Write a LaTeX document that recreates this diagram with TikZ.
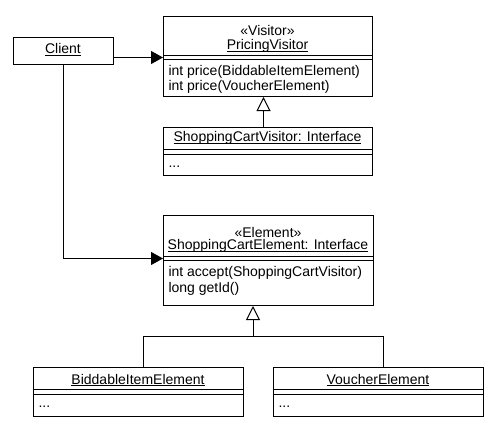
\documentclass[tikz,border=0pt]{standalone}
\usepackage{fontspec}
\setmainfont{Liberation Sans}
\usetikzlibrary{arrows.meta,calc}
\newcommand\ulx[1]{\setbox0\hbox{#1}\rlap{\rule[-1.9pt]{\wd0}{0.8pt}}\box0}
\begin{document}
\begin{tikzpicture}[x=1pt,y=-1pt,line width=1pt,
  cls/.style={draw,rectangle,anchor=north west,inner sep=0pt},
  txt/.style={inner sep=0pt,font=\fontsize{14}{16}\selectfont},
  ltxt/.style={txt,anchor=west},
  sep/.style={line width=1pt},
  assoc/.style={-{Triangle[length=12pt,width=13pt]}},
  inh/.style={-{Triangle[open,length=14pt,width=14pt,fill=white]}}]
\useasboundingbox (0,0) rectangle (497,433);
% boxes
\node[cls,minimum width=100pt,minimum height=27pt] (client) at (13,37) {};
\node[cls,minimum width=209pt,minimum height=80pt] (pv) at (163,16) {};
\node[cls,minimum width=209pt,minimum height=48pt] (scv) at (163,127) {};
\node[cls,minimum width=210pt,minimum height=90pt] (sce) at (163,215) {};
\node[cls,minimum width=210pt,minimum height=49pt] (bie) at (33,367) {};
\node[cls,minimum width=210pt,minimum height=49pt] (ve) at (273,367) {};
% separators
\draw[sep] (163,56) -- (372,56) (163,60) -- (372,60);
\draw[sep] (163,149) -- (372,149) (163,154) -- (372,154);
\draw[sep] (163,256) -- (373,256) (163,260) -- (373,260);
\draw[sep] (33,389) -- (243,389) (33,394) -- (243,394);
\draw[sep] (273,389) -- (483,389) (273,394) -- (483,394);
% texts
\node[txt] (tclient) at (63,49.5) {\ulx{Client}};
\node[txt] (tpv1) at (267.5,30) {«Visitor»};
\node[txt] (tpv2) at (267.5,46) {\ulx{PricingVisitor}};
\node[ltxt] (tpv3) at (168,72) {int price(BiddableItemElement)};
\node[ltxt] (tpv4) at (168,87) {int price(VoucherElement)};
\node[txt] (tscv1) at (267.5,138) {\ulx{ShoppingCartVisitor: Interface}};
\node[ltxt] (tscv2) at (168,167) {...};
\node[txt] (tsce1) at (268,232) {«Element»};
\node[txt] (tsce2) at (268,246) {\ulx{ShoppingCartElement: Interface}};
\node[ltxt] (tsce3) at (168,273) {int accept(ShoppingCartVisitor)};
\node[ltxt] (tsce4) at (168,289) {long getId()};
\node[txt] (tbie1) at (138,380) {\ulx{BiddableItemElement}};
\node[ltxt] (tbie2) at (38,407) {...};
\node[txt] (tve1) at (378,380) {\ulx{VoucherElement}};
\node[ltxt] (tve2) at (278,407) {...};
% connectors
\coordinate (j) at (253,336);
\draw[assoc] ([yshift=-6.5pt]client.east) -- ([yshift=-6.5pt]client.east -| pv.west);
\draw[assoc] (client.south) |- ([yshift=2pt]sce.west);
\draw[inh] ([xshift=-4.5pt]scv.north) -- ([xshift=-4.5pt]pv.south);
\draw[inh] ([xshift=5pt]bie.north) |- (j) -- (j |- sce.south);
\draw ([xshift=5pt]ve.north) |- (j);
\end{tikzpicture}
\end{document}
